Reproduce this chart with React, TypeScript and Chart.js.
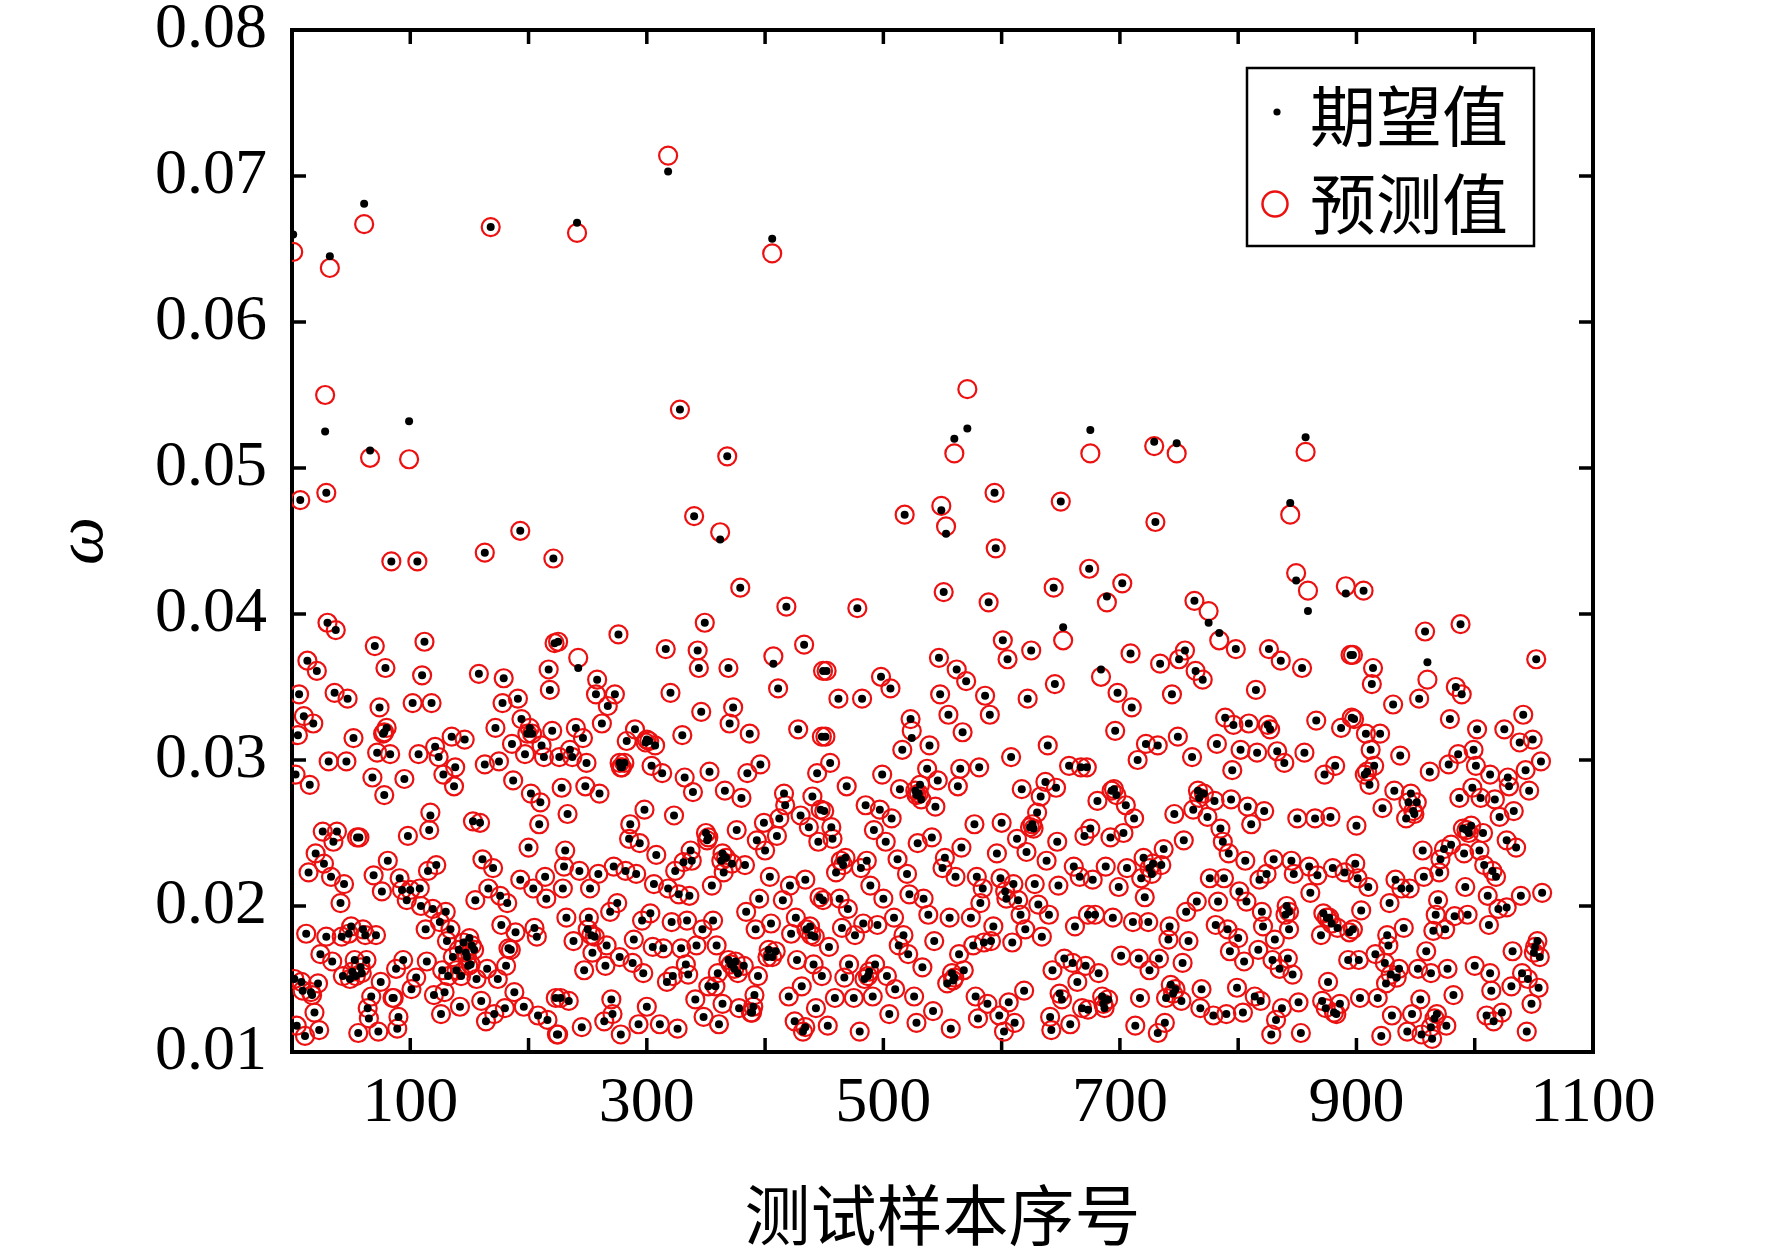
import React, { useEffect, useRef } from "react";
import { Chart, registerables } from "chart.js";

Chart.register(...registerables);

const W = 1772;
const H = 1254;

const seriesNames = ["期望值", "预测值"];
const xTitle = "测试样本序号";
const yTitle = "ω";

const xTickValues = [0, 100, 200, 300, 400, 500, 600, 700, 800, 900, 1000, 1100];
const xTickLabels = ["", "100", "", "300", "", "500", "", "700", "", "900", "", "1100"];
const yTickValues = [0.01, 0.02, 0.03, 0.04, 0.05, 0.06, 0.07, 0.08];
const yTickLabels = ["0.01", "0.02", "0.03", "0.04", "0.05", "0.06", "0.07", "0.08"];

const sampleNo = [
  1,32,61,28,7,29,66,99,168,241,
  318,328,340,368,406,518,549,560,571,594,
  650,675,729,748,844,857,362,553,849,730,
  193,163,84,106,221,30,37,70,112,13,
  21,79,110,158,179,217,218,222,6,36,
  47,74,102,118,178,191,10,18,5,52,
  77,80,72,83,107,121,124,135,146,31,
  46,3,15,68,78,95,128,138,137,163,
  175,172,186,194,197,203,213,220,211,187,
  202,210,209,117,98,116,153,159,26,38,
  35,55,57,20,27,14,33,44,41,81,
  69,76,91,93,100,108,97,115,122,161,
  170,155,166,176,182,200,193,204,215,214,
  109,119,130,125,134,131,12,29,42,50,
  60,71,113,177,189,205,207,183,24,34,
  53,63,43,49,59,75,88,94,86,101,
  105,2,9,17,22,67,114,127,136,141,
  148,152,149,156,143,139,132,165,174,181,
  185,120,129,126,142,160,164,171,180,188,
  196,208,216,223,224,19,4,11,23,56,
  64,65,73,89,90,85,
  379,418,349,276,225,316,343,433,242,344,
  369,407,411,449,258,257,273,267,320,346,
  373,370,387,428,448,262,240,246,235,226,
  237,249,283,290,299,307,330,279,281,304,
  313,332,353,385,396,444,228,248,260,233,
  339,366,380,416,440,298,286,323,376,399,
  412,417,430,437,447,285,294,308,351,337,
  393,400,410,445,231,230,243,259,272,282,
  291,324,331,338,363,372,383,404,229,252,
  306,318,327,336,355,365,421,434,446,232,
  251,269,275,296,303,321,334,356,384,395,
  415,426,438,238,256,266,289,305,314,329,
  342,347,359,392,405,422,442,254,265,277,
  288,297,333,335,360,377,369,382,402,409,
  394,427,441,247,317,322,352,358,391,420,
  431,227,234,270,271,300,341,364,378,388,
  443,225,245,264,278,293,311,326,348,361,
  425,432,
  595,478,551,589,644,674,601,605,625,652,
  645,547,562,570,548,586,590,555,567,622,
  452,498,506,462,482,523,524,516,539,451,
  455,608,639,657,667,499,514,537,546,531,
  530,544,563,565,581,469,617,637,646,633,
  630,450,485,497,507,492,502,529,541,577,
  600,613,624,621,638,647,670,456,457,468,
  486,460,481,512,520,552,550,561,566,596,
  579,599,610,628,661,648,666,449,463,470,
  489,500,522,534,538,556,584,582,574,614,
  616,631,640,673,465,476,483,495,509,517,
  513,543,576,591,593,609,620,634,662,454,
  471,493,503,521,533,510,484,467,448,560,
  568,564,643,653,664,660,671,459,475,491,
  505,526,542,554,578,588,598,606,619,651,
  668,580,641,453,480,528,557,602,611,642,
  658,
  702,689,859,891,763,775,784,798,826,836,
  854,895,709,734,755,750,764,770,684,698,
  710,744,815,696,789,796,809,825,827,866,
  887,896,722,732,749,782,802,816,833,839,
  856,715,761,795,882,873,672,681,695,705,
  712,746,762,771,780,774,794,808,822,811,
  850,865,878,675,692,703,785,787,754,737,
  720,688,677,699,706,718,727,735,792,806,
  776,788,818,830,845,847,824,867,880,890,
  860,801,807,765,783,756,721,711,724,679,
  694,742,741,758,781,791,800,820,821,831,
  840,843,861,870,875,884,894,701,716,725,
  733,753,793,805,817,829,842,846,682,799,
  835,876,893,685,717,743,739,752,769,768,
  779,790,804,814,819,837,851,871,883,673,
  687,713,732,738,832,828,853,
  906,958,988,960,1052,897,914,913,953,931,
  984,989,898,908,920,912,915,907,911,937,
  979,1002,1025,1041,1038,1049,1056,986,999,978,
  962,1001,1013,1028,1043,1046,932,946,951,922,
  942,949,900,987,998,1005,1017,1029,1021,1033,
  993,1007,1027,1035,956,980,974,971,991,1004,
  1008,1018,992,899,901,910,933,938,945,957,
  970,904,928,897,969,967,983,994,1011,1020,
  1027,1039,1057,1012,965,975,940,926,902,916,
  927,924,959,952,963,977,936,934,925,1000,
  1013,1032,1040,1051,1055,1031,1045,1054,1048,1014,
  982,903,918,930,947,954,968,976,1010,1016,
  1023,943,955,964,921,1044,
  145,147,150,151,154,51,54,58,48,62,
  8,16,199,201,250,253,300,302,277,278,
  350,352,364,367,371,374,375,389,390,403,
  406,435,439,434,527,528,532,464,466,487,
  488,558,559,626,627,585,603,604,649,693,
  697,766,767,841,843,872,877,879,725,728,
  874,881,886,686,690,745,747,990,995,997,
  909,1050,1053,944,948,1015,929,963,966,78,
];

const expected = [
  .0660,.0645,.0681,.0525,.0478,.0483,.0512,.0532,.0665,.0668,
  .0703,.0540,.0467,.0508,.0657,.0468,.0471,.0520,.0527,.0483,
  .0477,.0526,.0518,.0517,.0476,.0521,.0451,.0455,.0423,.0463,
  .0457,.0442,.0436,.0436,.0438,.0394,.0389,.0378,.0381,.0368,
  .0361,.0363,.0358,.0359,.0356,.0362,.0348,.0380,.0345,.0346,
  .0342,.0336,.0339,.0339,.0339,.0342,.0330,.0325,.0317,.0315,
  .0318,.0322,.0305,.0304,.0304,.0309,.0302,.0316,.0314,.0299,
  .0299,.0290,.0283,.0288,.0276,.0287,.0290,.0295,.0282,.0297,
  .0299,.0322,.0311,.0328,.0304,.0318,.0302,.0320,.0310,.0286,
  .0277,.0271,.0256,.0262,.0248,.0252,.0258,.0257,.0251,.0251,
  .0244,.0247,.0247,.0236,.0229,.0223,.0220,.0215,.0202,.0231,
  .0221,.0210,.0219,.0211,.0211,.0212,.0204,.0224,.0228,.0232,
  .0226,.0204,.0212,.0207,.0202,.0240,.0218,.0212,.0205,.0220,
  .0200,.0198,.0196,.0189,.0184,.0176,.0181,.0179,.0179,.0186,
  .0184,.0180,.0184,.0187,.0182,.0185,.0179,.0171,.0167,.0162,
  .0163,.0163,.0152,.0150,.0154,.0148,.0157,.0163,.0137,.0143,
  .0151,.0150,.0142,.0139,.0147,.0138,.0162,.0156,.0165,.0170,
  .0165,.0173,.0159,.0150,.0152,.0156,.0152,.0157,.0150,.0159,
  .0170,.0139,.0141,.0126,.0131,.0135,.0121,.0126,.0130,.0141,
  .0131,.0125,.0122,.0137,.0112,.0127,.0118,.0111,.0115,.0113,
  .0130,.0123,.0114,.0116,.0124,.0137,
  .0418,.0405,.0394,.0386,.0381,.0376,.0375,.0379,.0363,.0363,
  .0363,.0366,.0349,.0361,.0355,.0345,.0345,.0337,.0346,.0333,
  .0336,.0325,.0318,.0321,.0316,.0325,.0322,.0315,.0307,.0302,
  .0302,.0298,.0313,.0321,.0312,.0310,.0317,.0295,.0298,.0296,
  .0291,.0288,.0292,.0291,.0297,.0291,.0281,.0282,.0277,.0263,
  .0278,.0279,.0274,.0277,.0275,.0266,.0256,.0262,.0252,.0257,
  .0260,.0269,.0262,.0254,.0266,.0246,.0243,.0235,.0245,.0238,
  .0245,.0238,.0248,.0244,.0238,.0227,.0224,.0222,.0227,.0224,
  .0222,.0224,.0230,.0231,.0231,.0229,.0228,.0220,.0212,.0212,
  .0215,.0212,.0208,.0207,.0214,.0223,.0214,.0218,.0206,.0192,
  .0192,.0196,.0202,.0190,.0195,.0189,.0190,.0190,.0196,.0205,
  .0204,.0192,.0186,.0176,.0179,.0173,.0177,.0172,.0171,.0171,
  .0173,.0184,.0173,.0184,.0188,.0181,.0179,.0168,.0159,.0165,
  .0161,.0154,.0160,.0153,.0154,.0154,.0163,.0159,.0165,.0169,
  .0152,.0163,.0160,.0156,.0148,.0152,.0145,.0145,.0139,.0138,
  .0145,.0137,.0135,.0136,.0126,.0131,.0136,.0133,.0130,.0127,
  .0130,.0112,.0117,.0121,.0112,.0119,.0119,.0116,.0124,.0119,
  .0121,.0114,
  .0445,.0404,.0415,.0408,.0418,.0431,.0382,.0369,.0375,.0391,
  .0352,.0370,.0362,.0354,.0345,.0344,.0331,.0331,.0319,.0342,
  .0361,.0357,.0349,.0342,.0342,.0328,.0315,.0307,.0310,.0316,
  .0298,.0302,.0310,.0296,.0295,.0290,.0280,.0294,.0286,.0283,
  .0277,.0268,.0282,.0294,.0295,.0282,.0280,.0285,.0281,.0275,
  .0264,.0265,.0269,.0266,.0260,.0252,.0244,.0243,.0247,.0256,
  .0257,.0246,.0254,.0237,.0231,.0244,.0248,.0254,.0246,.0233,
  .0231,.0223,.0226,.0232,.0222,.0233,.0226,.0220,.0240,.0236,
  .0220,.0219,.0215,.0215,.0227,.0214,.0220,.0204,.0205,.0198,
  .0214,.0205,.0208,.0205,.0194,.0192,.0212,.0202,.0192,.0204,
  .0194,.0201,.0194,.0194,.0185,.0180,.0188,.0187,.0192,.0180,
  .0173,.0176,.0173,.0176,.0186,.0175,.0184,.0179,.0186,.0172,
  .0160,.0160,.0152,.0167,.0158,.0143,.0150,.0151,.0152,.0151,
  .0156,.0167,.0156,.0164,.0148,.0161,.0159,.0137,.0137,.0138,
  .0126,.0138,.0128,.0147,.0138,.0133,.0125,.0134,.0142,.0136,
  .0130,.0123,.0124,.0118,.0114,.0120,.0116,.0114,.0120,.0115,
  .0119,
  .0421,.0412,.0402,.0414,.0409,.0394,.0387,.0376,.0376,.0368,
  .0363,.0372,.0373,.0366,.0375,.0369,.0361,.0355,.0362,.0346,
  .0336,.0345,.0348,.0320,.0329,.0324,.0325,.0324,.0321,.0327,
  .0322,.0329,.0311,.0310,.0316,.0311,.0307,.0305,.0306,.0298,
  .0305,.0300,.0302,.0293,.0296,.0290,.0295,.0272,.0280,.0269,
  .0260,.0263,.0266,.0277,.0272,.0261,.0273,.0268,.0265,.0256,
  .0260,.0260,.0261,.0253,.0247,.0250,.0253,.0244,.0245,.0239,
  .0233,.0227,.0218,.0213,.0226,.0219,.0222,.0228,.0236,.0231,
  .0219,.0219,.0218,.0232,.0231,.0222,.0222,.0221,.0226,.0223,
  .0227,.0210,.0203,.0203,.0203,.0196,.0206,.0189,.0189,.0194,
  .0192,.0186,.0177,.0176,.0187,.0184,.0178,.0196,.0186,.0177,
  .0194,.0184,.0209,.0180,.0192,.0185,.0182,.0166,.0164,.0156,
  .0164,.0161,.0169,.0162,.0170,.0163,.0164,.0153,.0154,.0144,
  .0157,.0148,.0163,.0138,.0137,.0146,.0137,.0135,.0143,.0130,
  .0125,.0126,.0127,.0138,.0135,.0130,.0134,.0135,.0126,.0129,
  .0130,.0118,.0113,.0120,.0122,.0112,.0113,
  .0416,.0388,.0393,.0367,.0369,.0372,.0363,.0352,.0342,.0338,
  .0350,.0345,.0328,.0318,.0318,.0307,.0296,.0290,.0283,.0303,
  .0328,.0321,.0321,.0331,.0312,.0314,.0299,.0304,.0307,.0297,
  .0292,.0296,.0290,.0288,.0293,.0279,.0279,.0277,.0271,.0267,
  .0260,.0263,.0255,.0274,.0281,.0274,.0273,.0282,.0261,.0265,
  .0252,.0250,.0245,.0240,.0238,.0242,.0239,.0232,.0236,.0238,
  .0228,.0220,.0213,.0229,.0219,.0213,.0218,.0212,.0212,.0220,
  .0223,.0197,.0202,.0184,.0204,.0194,.0193,.0194,.0207,.0198,
  .0199,.0207,.0209,.0187,.0183,.0184,.0185,.0180,.0163,.0167,
  .0173,.0161,.0169,.0157,.0154,.0157,.0157,.0151,.0147,.0159,
  .0154,.0169,.0154,.0172,.0165,.0145,.0150,.0144,.0133,.0142,
  .0139,.0137,.0137,.0125,.0126,.0136,.0126,.0118,.0125,.0121,
  .0127,.0114,.0112,.0109,.0111,.0114,
  .0175,.0168,.0178,.0160,.0170,.0155,.0152,.0158,.0181,.0180,
  .0148,.0141,.0318,.0322,.0184,.0180,.0314,.0313,.0298,.0295,
  .0250,.0247,.0236,.0233,.0160,.0157,.0162,.0127,.0131,.0170,
  .0165,.0184,.0180,.0117,.0279,.0276,.0273,.0231,.0228,.0152,
  .0155,.0154,.0149,.0256,.0253,.0175,.0210,.0205,.0140,.0279,
  .0276,.0279,.0274,.0200,.0196,.0195,.0192,.0188,.0226,.0229,
  .0130,.0127,.0133,.0133,.0136,.0140,.0143,.0253,.0250,.0255,
  .0292,.0168,.0176,.0271,.0265,.0224,.0153,.0117,.0123,.0319,
];

const predicted = [
  .0648,.0637,.0667,.0550,.0478,.0483,.0507,.0506,.0665,.0661,
  .0714,.0540,.0467,.0508,.0647,.0468,.0474,.0510,.0554,.0483,
  .0477,.0510,.0515,.0510,.0468,.0511,.0456,.0460,.0428,.0463,
  .0457,.0442,.0436,.0436,.0438,.0394,.0389,.0378,.0381,.0368,
  .0361,.0363,.0358,.0359,.0356,.0362,.0348,.0380,.0345,.0346,
  .0342,.0336,.0339,.0339,.0339,.0342,.0330,.0325,.0317,.0315,
  .0318,.0322,.0305,.0304,.0304,.0309,.0302,.0316,.0314,.0299,
  .0299,.0290,.0283,.0288,.0276,.0287,.0290,.0295,.0282,.0297,
  .0299,.0322,.0311,.0328,.0304,.0318,.0302,.0320,.0310,.0286,
  .0277,.0271,.0256,.0264,.0248,.0252,.0258,.0257,.0251,.0251,
  .0244,.0247,.0247,.0236,.0229,.0223,.0220,.0215,.0202,.0231,
  .0221,.0210,.0219,.0211,.0211,.0212,.0204,.0224,.0228,.0232,
  .0226,.0204,.0212,.0207,.0202,.0240,.0218,.0212,.0205,.0220,
  .0200,.0198,.0196,.0189,.0184,.0176,.0181,.0179,.0179,.0186,
  .0184,.0180,.0184,.0187,.0182,.0185,.0179,.0171,.0167,.0162,
  .0163,.0163,.0152,.0150,.0154,.0148,.0157,.0163,.0137,.0143,
  .0151,.0150,.0142,.0139,.0147,.0138,.0162,.0156,.0165,.0170,
  .0165,.0173,.0159,.0150,.0152,.0156,.0152,.0157,.0150,.0159,
  .0170,.0139,.0141,.0126,.0131,.0135,.0121,.0126,.0130,.0141,
  .0131,.0125,.0122,.0137,.0112,.0127,.0118,.0111,.0115,.0113,
  .0130,.0123,.0114,.0116,.0124,.0137,
  .0418,.0405,.0394,.0386,.0381,.0376,.0375,.0379,.0370,.0363,
  .0363,.0371,.0349,.0361,.0355,.0345,.0345,.0337,.0346,.0333,
  .0336,.0325,.0318,.0321,.0316,.0325,.0322,.0315,.0307,.0302,
  .0302,.0298,.0313,.0321,.0312,.0310,.0317,.0295,.0298,.0296,
  .0291,.0288,.0292,.0291,.0297,.0291,.0281,.0282,.0277,.0263,
  .0278,.0279,.0274,.0277,.0275,.0266,.0256,.0262,.0252,.0257,
  .0260,.0269,.0262,.0254,.0266,.0246,.0243,.0235,.0245,.0238,
  .0245,.0238,.0248,.0244,.0238,.0227,.0224,.0222,.0227,.0224,
  .0222,.0224,.0230,.0231,.0231,.0229,.0228,.0220,.0212,.0212,
  .0215,.0212,.0208,.0207,.0214,.0223,.0214,.0218,.0206,.0192,
  .0192,.0196,.0202,.0190,.0195,.0189,.0190,.0190,.0196,.0205,
  .0204,.0192,.0186,.0176,.0179,.0173,.0177,.0172,.0171,.0171,
  .0173,.0184,.0173,.0184,.0188,.0181,.0179,.0168,.0159,.0165,
  .0161,.0154,.0160,.0153,.0154,.0154,.0163,.0159,.0165,.0169,
  .0152,.0163,.0160,.0156,.0148,.0152,.0145,.0145,.0139,.0138,
  .0145,.0137,.0135,.0136,.0126,.0131,.0136,.0133,.0130,.0127,
  .0130,.0112,.0117,.0121,.0112,.0119,.0119,.0116,.0124,.0119,
  .0121,.0114,
  .0445,.0404,.0415,.0408,.0418,.0431,.0382,.0369,.0375,.0382,
  .0352,.0370,.0362,.0354,.0345,.0344,.0331,.0331,.0319,.0342,
  .0361,.0357,.0349,.0342,.0342,.0328,.0320,.0307,.0310,.0316,
  .0298,.0302,.0310,.0296,.0295,.0290,.0280,.0294,.0286,.0283,
  .0277,.0268,.0282,.0294,.0295,.0282,.0280,.0285,.0281,.0275,
  .0264,.0265,.0269,.0266,.0260,.0252,.0244,.0243,.0247,.0256,
  .0257,.0246,.0254,.0237,.0231,.0244,.0248,.0254,.0246,.0233,
  .0231,.0223,.0226,.0232,.0222,.0233,.0226,.0220,.0240,.0236,
  .0220,.0219,.0215,.0215,.0227,.0214,.0220,.0204,.0205,.0198,
  .0214,.0205,.0208,.0205,.0194,.0192,.0212,.0202,.0192,.0204,
  .0194,.0201,.0194,.0194,.0185,.0180,.0188,.0187,.0192,.0180,
  .0173,.0176,.0173,.0176,.0186,.0175,.0184,.0179,.0186,.0172,
  .0160,.0160,.0152,.0167,.0158,.0143,.0150,.0151,.0152,.0151,
  .0156,.0167,.0156,.0164,.0148,.0161,.0159,.0137,.0137,.0138,
  .0126,.0138,.0128,.0147,.0138,.0133,.0125,.0134,.0142,.0136,
  .0130,.0123,.0124,.0118,.0114,.0120,.0116,.0114,.0120,.0115,
  .0119,
  .0421,.0408,.0416,.0419,.0409,.0402,.0382,.0376,.0376,.0368,
  .0363,.0372,.0373,.0366,.0375,.0369,.0361,.0355,.0357,.0346,
  .0336,.0345,.0348,.0320,.0329,.0324,.0325,.0324,.0321,.0327,
  .0322,.0329,.0311,.0310,.0316,.0311,.0307,.0305,.0306,.0298,
  .0305,.0300,.0302,.0293,.0296,.0290,.0295,.0272,.0280,.0269,
  .0260,.0263,.0266,.0277,.0272,.0261,.0273,.0268,.0265,.0256,
  .0260,.0260,.0261,.0253,.0247,.0250,.0253,.0244,.0245,.0239,
  .0233,.0227,.0218,.0213,.0226,.0219,.0222,.0228,.0236,.0231,
  .0219,.0219,.0218,.0232,.0231,.0222,.0222,.0221,.0226,.0223,
  .0227,.0210,.0203,.0203,.0203,.0196,.0206,.0189,.0189,.0194,
  .0192,.0186,.0177,.0176,.0187,.0184,.0178,.0196,.0186,.0177,
  .0194,.0184,.0209,.0180,.0192,.0185,.0182,.0166,.0164,.0156,
  .0164,.0161,.0169,.0162,.0170,.0163,.0164,.0153,.0154,.0144,
  .0157,.0148,.0163,.0138,.0137,.0146,.0137,.0135,.0143,.0130,
  .0125,.0126,.0127,.0138,.0135,.0130,.0134,.0135,.0126,.0129,
  .0130,.0118,.0113,.0120,.0122,.0112,.0113,
  .0416,.0388,.0393,.0355,.0369,.0372,.0363,.0352,.0342,.0338,
  .0350,.0345,.0328,.0318,.0318,.0307,.0296,.0290,.0283,.0303,
  .0328,.0321,.0321,.0331,.0312,.0314,.0299,.0304,.0307,.0297,
  .0292,.0296,.0290,.0288,.0293,.0279,.0279,.0277,.0271,.0267,
  .0260,.0263,.0255,.0274,.0281,.0274,.0273,.0282,.0261,.0265,
  .0252,.0250,.0245,.0240,.0238,.0242,.0239,.0232,.0236,.0238,
  .0228,.0220,.0213,.0229,.0219,.0213,.0218,.0212,.0212,.0220,
  .0223,.0197,.0202,.0184,.0204,.0194,.0193,.0194,.0207,.0198,
  .0199,.0207,.0209,.0187,.0183,.0184,.0185,.0180,.0163,.0167,
  .0173,.0161,.0169,.0157,.0154,.0157,.0157,.0151,.0147,.0159,
  .0154,.0169,.0154,.0172,.0165,.0145,.0150,.0144,.0133,.0142,
  .0139,.0137,.0137,.0125,.0126,.0136,.0126,.0118,.0125,.0121,
  .0127,.0114,.0112,.0109,.0111,.0114,
  .0175,.0168,.0178,.0160,.0170,.0155,.0152,.0158,.0181,.0180,
  .0148,.0141,.0318,.0322,.0184,.0180,.0314,.0313,.0298,.0295,
  .0250,.0247,.0236,.0233,.0160,.0157,.0162,.0127,.0131,.0170,
  .0165,.0184,.0180,.0117,.0279,.0276,.0273,.0231,.0228,.0152,
  .0155,.0154,.0149,.0256,.0253,.0175,.0210,.0205,.0140,.0279,
  .0276,.0279,.0274,.0200,.0196,.0195,.0192,.0188,.0226,.0229,
  .0130,.0127,.0133,.0133,.0136,.0140,.0143,.0253,.0250,.0255,
  .0292,.0168,.0176,.0271,.0265,.0224,.0153,.0117,.0123,.0319,
];

const SERIF = '"Liberation Serif", "Times New Roman", "DejaVu Serif", serif';
const CJK = '"Noto Sans CJK SC", "Noto Sans CJK JP", sans-serif';
const RED = "rgb(236,16,16)";

const decorPlugin = {
  id: "decor",
  beforeDatasetsDraw(chart: any) {
    const { ctx, chartArea: a, scales } = chart;
    ctx.save();
    ctx.strokeStyle = "#000";
    ctx.lineWidth = 4;
    ctx.strokeRect(a.left, a.top, a.right - a.left, a.bottom - a.top);
    ctx.lineWidth = 3.5;
    const tl = 14;
    ctx.beginPath();
    xTickValues.forEach((v) => {
      if (v <= xTickValues[0] || v >= xTickValues[xTickValues.length - 1]) return;
      const x = scales.x.getPixelForValue(v);
      ctx.moveTo(x, a.bottom);
      ctx.lineTo(x, a.bottom - tl);
      ctx.moveTo(x, a.top);
      ctx.lineTo(x, a.top + tl);
    });
    yTickValues.forEach((v, i) => {
      if (i === 0 || i === yTickValues.length - 1) return;
      const y = scales.y.getPixelForValue(v);
      ctx.moveTo(a.left, y);
      ctx.lineTo(a.left + tl, y);
      ctx.moveTo(a.right, y);
      ctx.lineTo(a.right - tl, y);
    });
    ctx.stroke();
    ctx.restore();
  },
  afterDraw(chart: any) {
    const { ctx, chartArea: a } = chart;
    ctx.save();
    ctx.fillStyle = "#000";
    ctx.textAlign = "center";
    ctx.textBaseline = "middle";
    ctx.font = `66px ${CJK}`;
    ctx.fillText(xTitle, (a.left + a.right) / 2, 1215);
    ctx.save();
    ctx.translate(88, (a.top + a.bottom) / 2);
    ctx.rotate(-Math.PI / 2);
    ctx.font = `italic 68px ${SERIF}`;
    ctx.fillText(yTitle, 0, -4);
    ctx.restore();

    const bx = 1247, by = 68, bw = 287, bh = 178;
    ctx.fillStyle = "#fff";
    ctx.fillRect(bx, by, bw, bh);
    ctx.strokeStyle = "#000";
    ctx.lineWidth = 2.5;
    ctx.strokeRect(bx, by, bw, bh);
    ctx.fillStyle = "#000";
    ctx.beginPath();
    ctx.arc(1277, 112, 3.6, 0, Math.PI * 2);
    ctx.fill();
    ctx.strokeStyle = RED;
    ctx.lineWidth = 2.5;
    ctx.beginPath();
    ctx.arc(1275, 204, 12.5, 0, Math.PI * 2);
    ctx.stroke();
    ctx.fillStyle = "#000";
    ctx.textAlign = "left";
    ctx.textBaseline = "middle";
    ctx.font = `66px ${CJK}`;
    ctx.fillText(seriesNames[0], 1310, 116);
    ctx.fillText(seriesNames[1], 1310, 204);
    ctx.restore();
  },
};

export default function App() {
  const ref = useRef<HTMLCanvasElement | null>(null);
  useEffect(() => {
    if (!ref.current) return;
    const expPts = sampleNo.map((s, i) => ({ x: s, y: expected[i] }));
    const prePts = sampleNo.map((s, i) => ({ x: s, y: predicted[i] }));
    const chart = new Chart(ref.current, {
      type: "scatter",
      data: {
        datasets: [
          {
            label: seriesNames[0],
            data: expPts,
            pointRadius: 4,
            pointBackgroundColor: "#000",
            pointBorderWidth: 0,
            pointHoverRadius: 4,
          },
          {
            label: seriesNames[1],
            data: prePts,
            pointRadius: 9,
            pointBackgroundColor: "rgba(0,0,0,0)",
            pointBorderColor: RED,
            pointBorderWidth: 2.2,
            pointHoverRadius: 9,
          },
        ],
      },
      options: {
        animation: false,
        responsive: false,
        events: [],
        layout: { padding: { left: 0, right: W - 1593, top: 30, bottom: 0 } },
        plugins: { legend: { display: false }, tooltip: { enabled: false }, title: { display: false } },
        scales: {
          x: {
            type: "linear",
            min: 0,
            max: 1100,
            afterBuildTicks: (s: any) => {
              s.ticks = xTickValues.map((v) => ({ value: v }));
            },
            afterFit: (s: any) => {
              s.height = H - 1052;
            },
            grid: { display: false, drawTicks: false },
            border: { display: false },
            ticks: {
              autoSkip: false,
              maxRotation: 0,
              padding: 23,
              color: "#000",
              font: { family: SERIF, size: 64, lineHeight: 0.9 },
              callback: (_v: any, i: number) => xTickLabels[i],
            },
          },
          y: {
            type: "linear",
            min: 0.01,
            max: 0.08,
            afterBuildTicks: (s: any) => {
              s.ticks = yTickValues.map((v) => ({ value: v }));
            },
            afterFit: (s: any) => {
              s.width = 292;
            },
            grid: { display: false, drawTicks: false },
            border: { display: false },
            ticks: {
              autoSkip: false,
              padding: 25,
              color: "#000",
              font: { family: SERIF, size: 64, lineHeight: 0.1 },
              callback: (_v: any, i: number) => yTickLabels[i],
            },
          },
        },
      },
      plugins: [decorPlugin],
    });
    return () => chart.destroy();
  }, []);
  return (
    <div style={{ position: "absolute", left: 0, top: 0, width: W, height: H, background: "#fff" }}>
      <canvas ref={ref} width={W} height={H} style={{ width: W, height: H, display: "block" }} />
    </div>
  );
}
